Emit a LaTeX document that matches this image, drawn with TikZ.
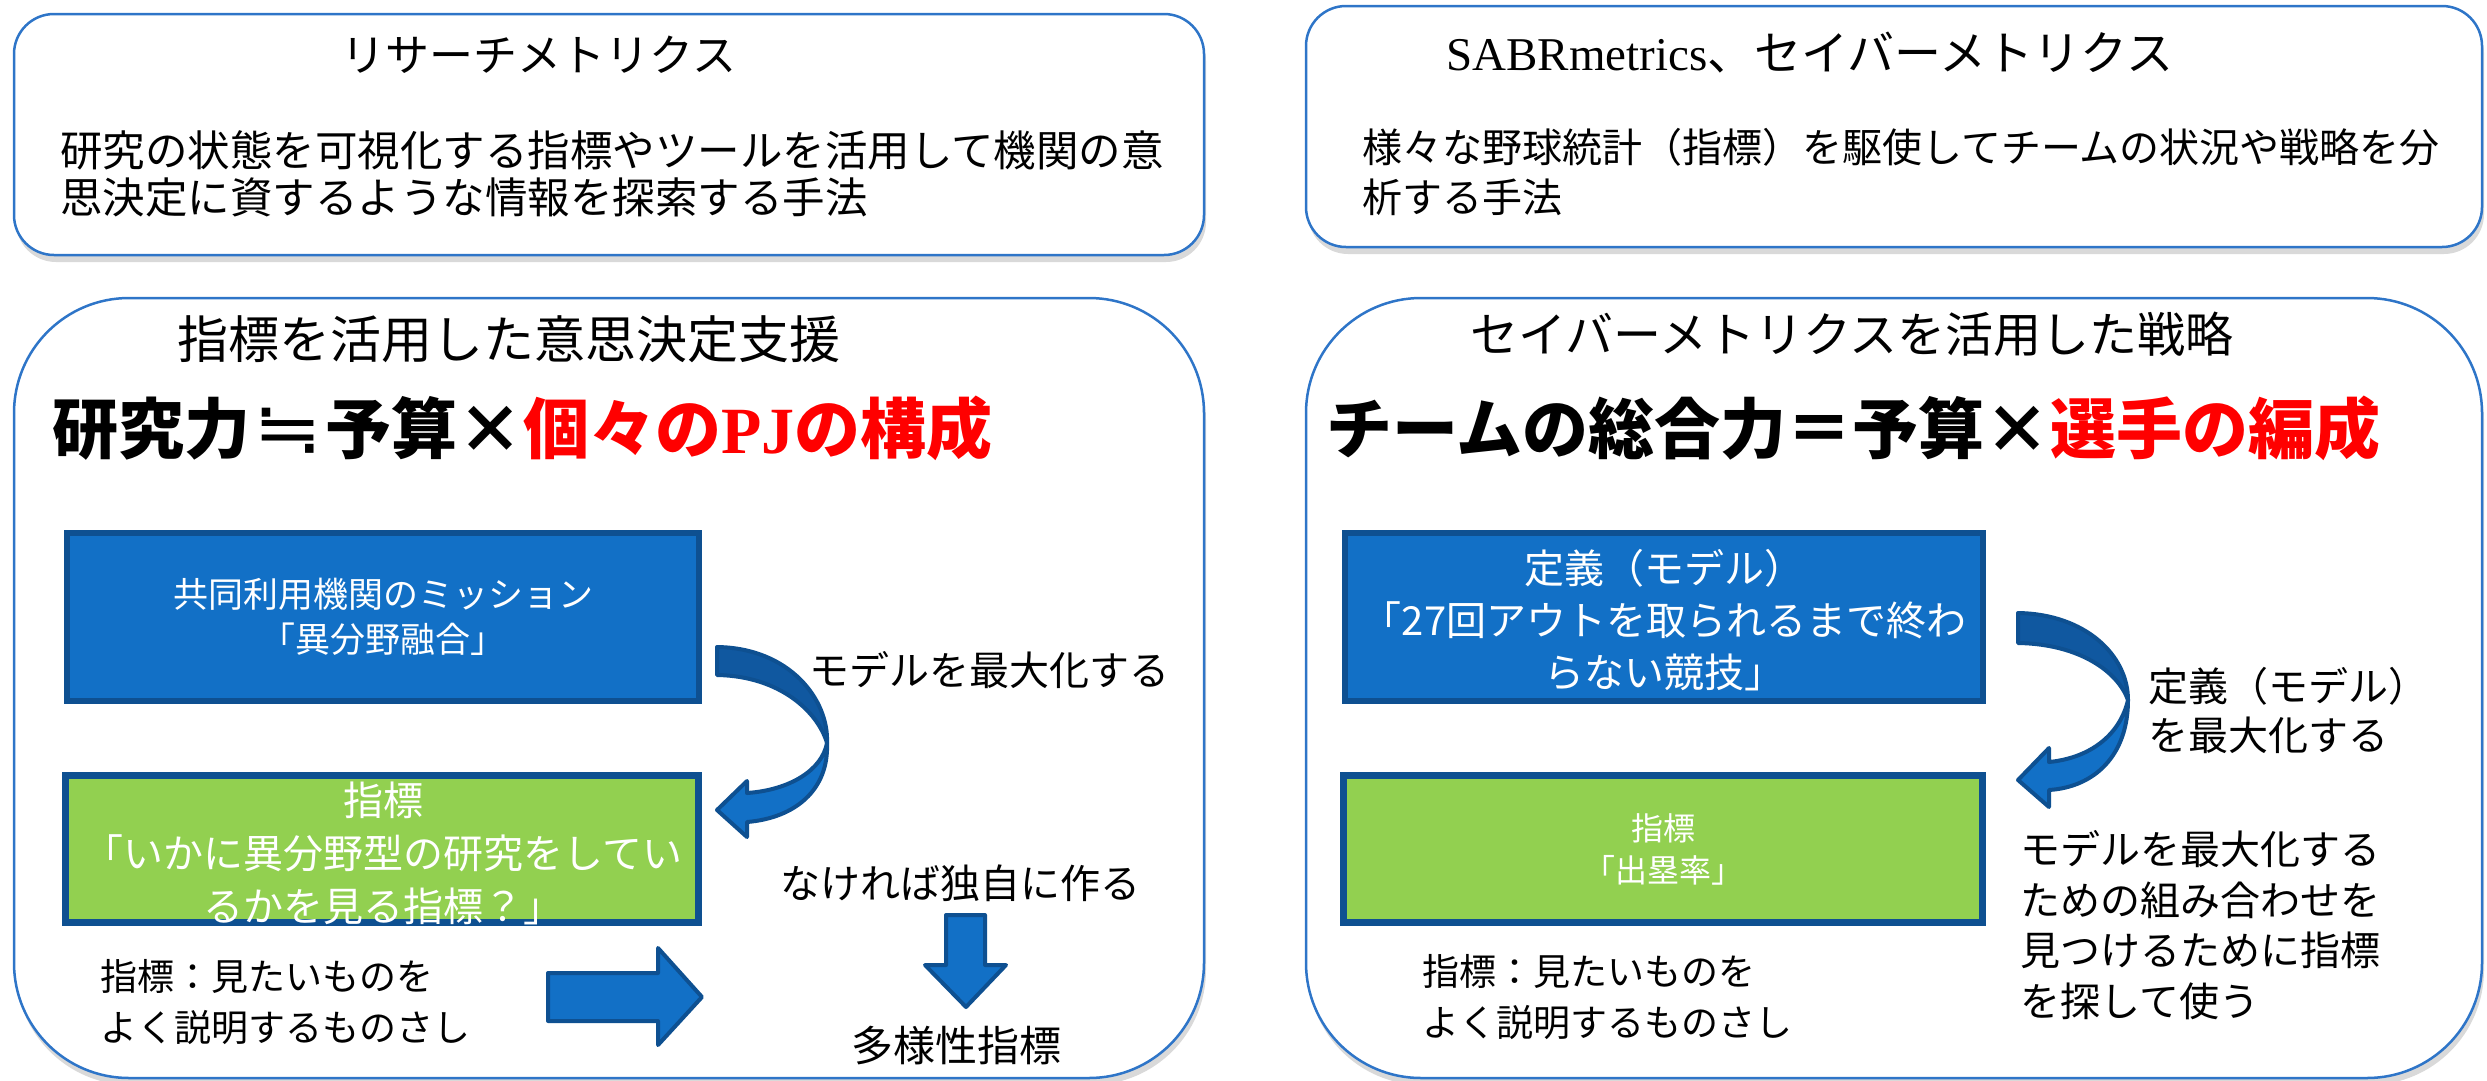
\documentclass[tikz,border=0pt]{standalone}
\usepackage{graphicx}
\usepackage{fontspec}
\setmainfont{Noto Sans CJK JP}
\newfontfamily\latinserif{Liberation Serif}
\newfontfamily\symfont{DejaVu Sans}
\usetikzlibrary{shadows}
\definecolor{frameblue}{RGB}{46,117,200}
\definecolor{boxblue}{RGB}{18,112,198}
\definecolor{boxedge}{RGB}{14,80,145}
\definecolor{arrowdark}{RGB}{16,88,160}
\definecolor{limegreen}{RGB}{146,208,80}
\newcommand\myfs[2]{\fontsize{#1}{#2}\selectfont}
\begin{document}
\begin{tikzpicture}[x=1pt,y=-1pt,
  panel/.style={draw=frameblue, line width=2.5pt, fill=white, inner sep=0pt,
    drop shadow={opacity=0.3, shadow xshift=2pt, shadow yshift=-7pt}},
  bluebox/.style={draw=boxedge, line width=6pt, fill=boxblue, inner sep=0pt},
  greenbox/.style={draw=boxedge, line width=7pt, fill=limegreen, inner sep=0pt},
  intext/.style={text=white, align=center, inner sep=0pt},
  txt/.style={inner sep=0pt, align=left, text=black},
  arrowfront/.style={draw=boxedge, line width=4pt, line join=round, fill=boxblue},
  arrowback/.style={draw=boxedge, line width=4pt, line join=round, fill=arrowdark}]
\useasboundingbox (0,0) rectangle (2487,1080);

% panels
\node[panel, rounded corners=40pt, minimum width=1190pt, minimum height=241pt] (tl) at (609,134.5) {};
\node[panel, rounded corners=40pt, minimum width=1176pt, minimum height=241pt] (tr) at (1894,126.5) {};
\node[panel, rounded corners=115pt, minimum width=1190pt, minimum height=780pt] (bigl) at (609,688) {};
\node[panel, rounded corners=115pt, minimum width=1176pt, minimum height=780pt] (bigr) at (1894,688) {};

% coloured boxes
\node[bluebox, minimum width=632pt, minimum height=168pt] (bl) at (383,617) {};
\node[greenbox, minimum width=633pt, minimum height=147pt] (gl) at (382,849) {};
\node[bluebox, minimum width=638pt, minimum height=168pt] (br) at (1664,617) {};
\node[greenbox, minimum width=639pt, minimum height=147pt] (gr) at (1663,849) {};

\node[intext, font=\myfs{35}{45}] (blt) at (bl.center) {共同利用機関のミッション\\「異分野融合」};
\node[intext, font=\myfs{40}{53}] (glt) at (383,853) {指標\\「いかに異分野型の研究をしてい\\るかを見る指標？」};
\node[intext, font=\myfs{40}{52}] (brt) at (1664,620) {定義（モデル）\\「27回アウトを取られるまで終わ\\らない競技」};
\node[intext, font=\myfs{32}{42}] (grt) at (gr.center) {指標\\「出塁率」};

% curved arrows
\coordinate (ca1) at (717,647);
\begin{scope}[shift={(ca1)}]
  \path[arrowback] (0,0) .. controls (73,1) and (112,53) .. (110,96)
     .. controls (101,65) and (63,29) .. (0,28) -- cycle;
  \path[arrowfront] (110,96) .. controls (112,143) and (78,171) .. (30,175)
     -- (30,190) -- (0,163) -- (30,134) -- (30,146)
     .. controls (73,143) and (105,123) .. (110,96) -- cycle;
\end{scope}
\coordinate (ca2) at (2018,613);
\begin{scope}[shift={(ca2)}]
  \path[arrowback] (0,0) .. controls (67,1) and (110,42) .. (110,87)
     .. controls (100,59) and (62,31) .. (0,30) -- cycle;
  \path[arrowfront] (110,87) .. controls (110,142) and (77,174) .. (31,177)
     -- (31,194) -- (0,167) -- (31,135) -- (31,149)
     .. controls (72,145) and (102,122) .. (110,87) -- cycle;
\end{scope}

% block arrows
\coordinate (ra) at (548,973);
\begin{scope}[shift={(ra)}]
  \path[arrowfront] (0,0) -- (110,0) -- (110,-25) -- (154,24) -- (110,72) -- (110,48) -- (0,48) -- cycle;
\end{scope}
\coordinate (da) at (946,915);
\begin{scope}[shift={(da)}]
  \path[arrowfront] (0,0) -- (39,0) -- (39,50) -- (60,50) -- (20,92) -- (-21,50) -- (0,50) -- cycle;
\end{scope}

% texts
\node[txt, font=\myfs{44}{48}] (tlh) at (539,55) {リサーチメトリクス};
\node[txt, anchor=west, font=\myfs{42.5}{47}] (tlb) at (60,173.5) {研究の状態を可視化する指標やツールを活用して機関の意\\思決定に資するような情報を探索する手法};
\node[txt, font=\myfs{47}{50}] (trh) at (1810,53) {{\latinserif SABRmetrics}、セイバーメトリクス};
\node[txt, anchor=west, font=\myfs{40}{50}] (trb) at (1362,172) {様々な野球統計（指標）を駆使してチームの状況や戦略を分\\析する手法};
\node[txt, font=\myfs{51}{55}] (blh) at (509,339) {指標を活用した意思決定支援};
\node[txt, anchor=west, font=\myfs{66}{70}\bfseries] (blf) at (52,428) {研究力\kern3pt{\symfont\mdseries\scalebox{1.25}[1.1]{≒}}\kern3pt 予算×{\color{red}個々の{\latinserif PJ}の構成}};
\node[txt, font=\myfs{48}{52}] (brh) at (1852,334) {セイバーメトリクスを活用した戦略};
\node[txt, anchor=west, font=\myfs{66}{70}\bfseries] (brf) at (1326,428) {チームの総合力＝予算×{\color{red}選手の編成}};

\node[txt, anchor=west, font=\myfs{40}{48}] (lbl1) at (809,670) {モデルを最大化する};
\node[txt, anchor=west, font=\myfs{40}{48}] (lbl2) at (780,883) {なければ独自に作る};
\node[txt, font=\myfs{42}{48}] (lbl3) at (956,1046) {多様性指標};
\node[txt, anchor=west, font=\myfs{37}{51}] (lbl4) at (100,1002.5) {指標：見たいものを\\よく説明するものさし};
\node[txt, anchor=west, font=\myfs{40}{49}] (rl1) at (2148,710.5) {定義（モデル）\\を最大化する};
\node[txt, anchor=west, font=\myfs{40}{50.5}] (rl2) at (2020,925) {モデルを最大化する\\ための組み合わせを\\見つけるために指標\\を探して使う};
\node[txt, anchor=west, font=\myfs{37}{51}] (rl3) at (1422,997.5) {指標：見たいものを\\よく説明するものさし};
\end{tikzpicture}
\end{document}
